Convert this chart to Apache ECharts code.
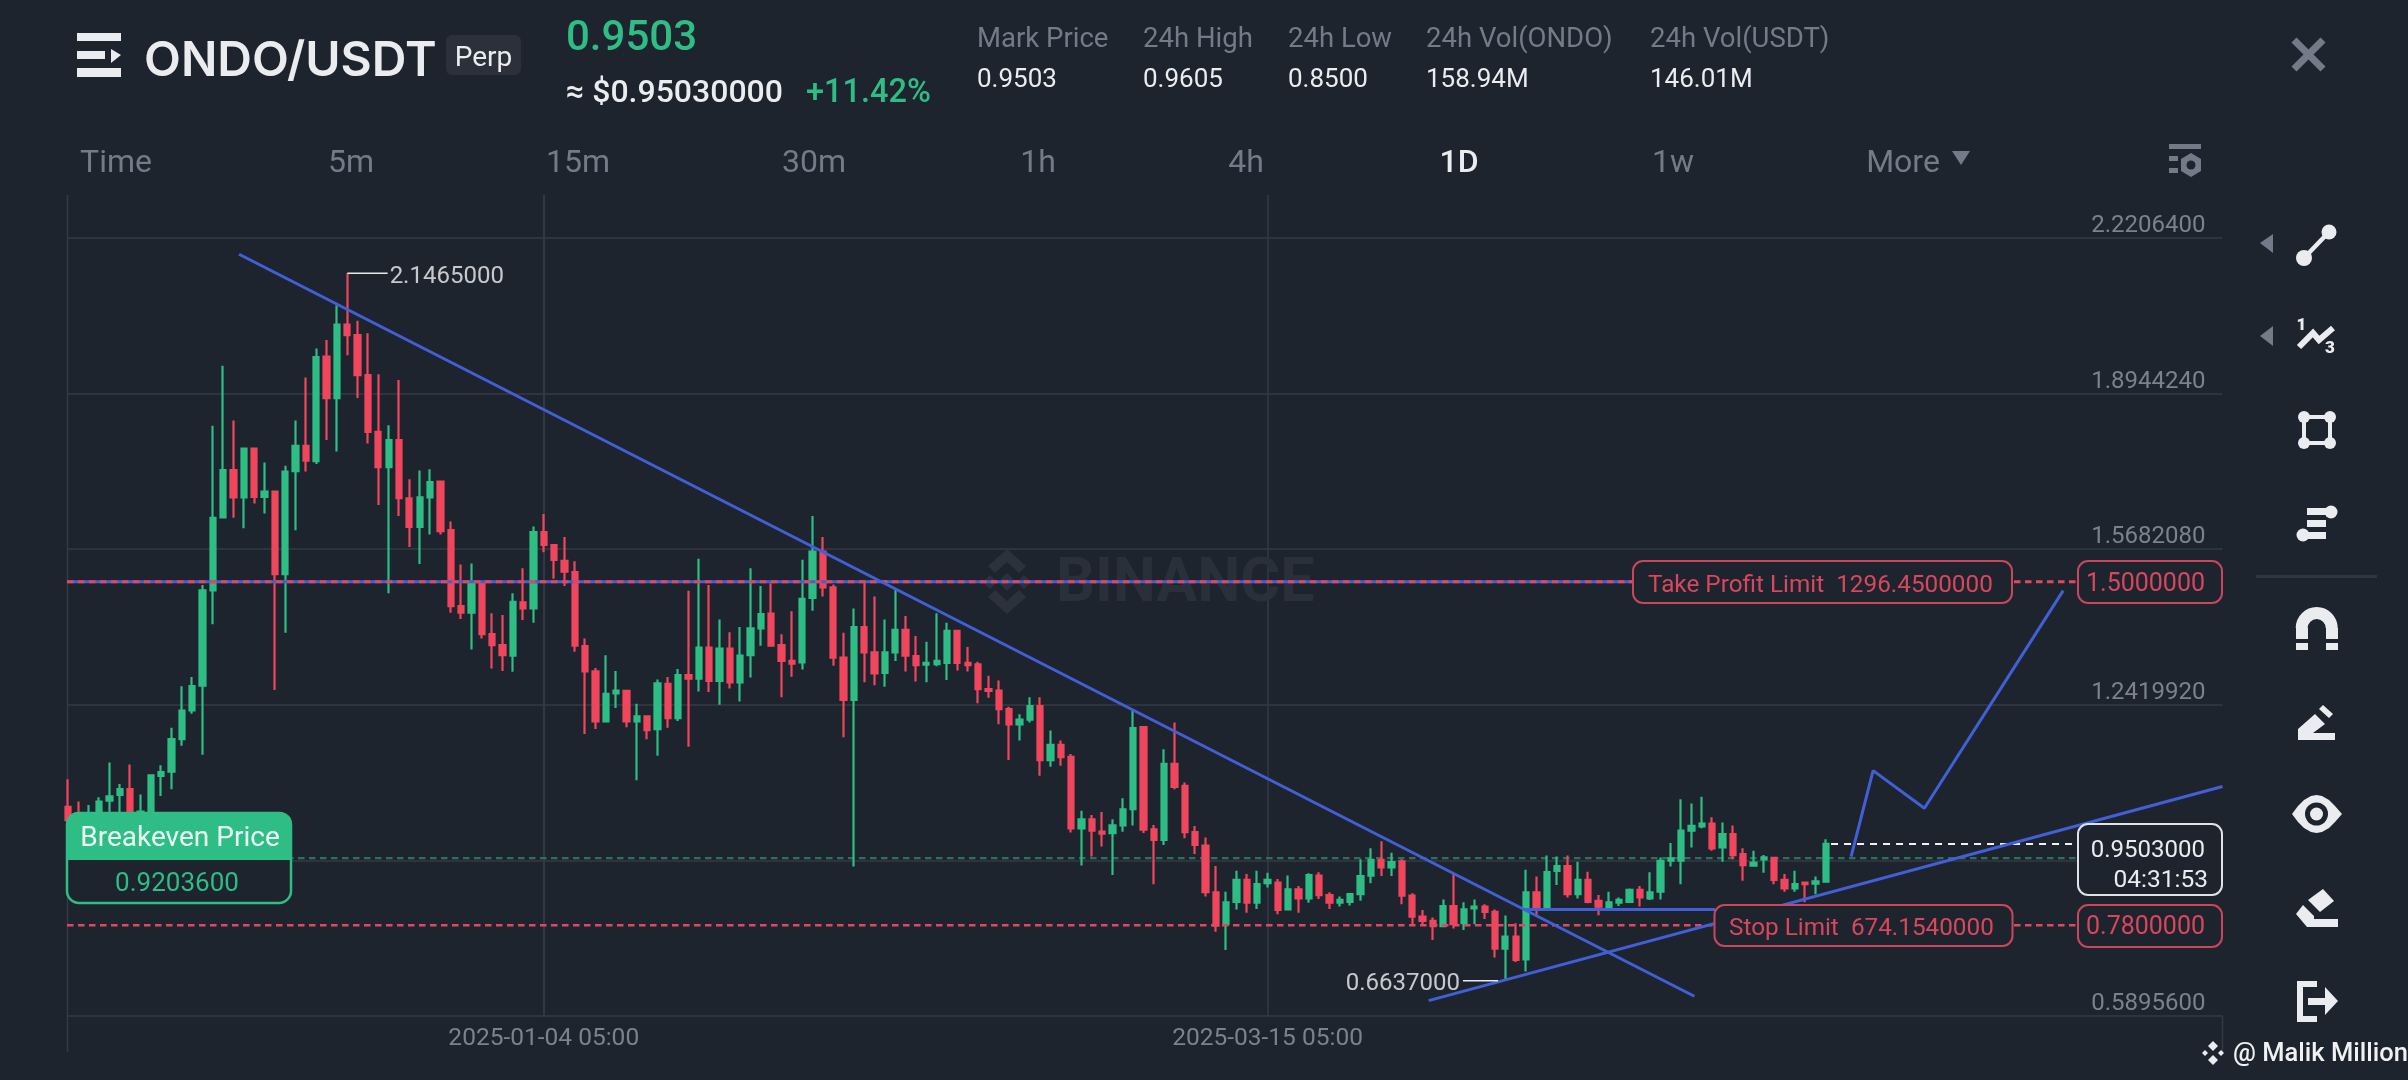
<!DOCTYPE html>
<html>
<head>
<meta charset="utf-8">
<style>html,body{margin:0;padding:0;background:#1e242e;}#c{width:2408px;height:1080px;}</style>
<script src="https://cdn.jsdelivr.net/npm/echarts@6/dist/echarts.min.js"></script>
</head>
<body>
<div id="c"></div>
<script>
// ---- data (daily candles, day 0 = 2025-01-04 05:00, first candle = day -46) ----
const opens = [
1.028,1.010,.990,1.000,1.041,1.053,1.065,1.005,1.018,1.093,
1.102,1.170,1.230,1.282,1.482,1.635,1.734,1.677,1.779,1.678,
1.689,1.516,1.732,1.785,1.753,1.972,1.885,2.039,2.017,1.933,
1.814,1.740,1.797,1.675,1.615,1.677,1.710,1.608,1.449,1.435,
1.495,1.390,1.367,1.345,1.457,1.444,1.604,1.577,1.544,1.520,
1.365,1.312,1.207,1.266,1.271,1.207,1.218,1.191,1.286,1.214,
1.304,1.297,1.362,1.292,1.360,1.289,1.346,1.402,1.433,1.367,
1.334,1.331,1.466,1.563,1.488,1.341,1.252,1.405,1.352,1.309,
1.352,1.399,1.344,1.326,1.327,1.330,1.397,1.330,1.327,1.275,
1.272,1.233,1.201,1.211,1.239,1.126,1.158,1.133,.983,1.002,
.976,.973,.989,1.023,1.195,.981,.959,1.118,1.072,.975,
.947,.849,.782,.829,.875,.827,.868,.869,.813,.855,
.836,.884,.843,.827,.829,.845,.884,.917,.901,.914,
.842,.798,.789,.778,.820,.784,.815,.819,.808,.731,
.756,.708,.849,.815,.894,.904,.845,.875,.831,.818,
.827,.829,.854,.836,.850,.915,.915,.978,.987,.993,
.943,.971,.929,.905,.918,.921,.875,.857,.869,.867,
.871];
const closes = [
1.000,.990,1.005,1.039,1.050,1.065,1.000,1.018,1.094,1.101,
1.170,1.230,1.281,1.482,1.634,1.734,1.677,1.779,1.678,1.689,
1.516,1.731,1.785,1.754,1.971,1.885,2.039,2.017,1.933,1.814,
1.740,1.797,1.675,1.615,1.677,1.709,1.606,1.449,1.435,1.495,
1.390,1.367,1.346,1.458,1.444,1.604,1.577,1.546,1.521,1.366,
1.312,1.207,1.265,1.272,1.207,1.218,1.189,1.287,1.214,1.304,
1.297,1.362,1.292,1.360,1.289,1.345,1.402,1.432,1.366,1.334,
1.328,1.464,1.563,1.488,1.341,1.252,1.405,1.352,1.308,1.352,
1.399,1.345,1.325,1.330,1.334,1.397,1.330,1.325,1.275,1.271,
1.233,1.201,1.211,1.239,1.126,1.158,1.132,.983,1.002,.978,
.972,.989,1.023,1.193,.980,.959,1.118,1.070,.975,.948,
.849,.779,.828,.875,.827,.866,.875,.812,.855,.836,
.885,.843,.827,.833,.845,.883,.917,.901,.912,.842,
.798,.789,.778,.820,.782,.813,.819,.808,.731,.756,
.707,.849,.815,.891,.904,.845,.875,.829,.819,.828,
.833,.854,.838,.849,.915,.920,.978,.988,.993,.941,
.971,.927,.906,.911,.922,.875,.857,.866,.866,.872,
.9503];
const lows = [
.980,.970,.970,.980,1.000,1.000,.985,.990,1.005,1.051,
1.065,1.156,1.223,1.137,1.411,1.635,1.634,1.612,1.664,1.643,
1.273,1.393,1.608,1.731,1.747,1.797,1.773,1.975,1.885,1.790,
1.661,1.476,1.638,1.573,1.537,1.599,1.599,1.435,1.422,1.358,
1.381,1.318,1.313,1.311,1.420,1.414,1.562,1.506,1.491,1.353,
1.181,1.191,1.207,1.235,1.195,1.084,1.170,1.135,1.194,1.208,
1.154,1.270,1.269,1.242,1.276,1.249,1.299,1.366,1.366,1.258,
1.301,1.316,1.439,1.469,1.324,1.174,.903,1.289,1.283,1.280,
1.334,1.312,1.291,1.289,1.323,1.294,1.314,1.312,1.245,1.257,
1.201,1.126,1.167,1.205,1.093,1.112,1.114,.974,.905,.924,
.945,.885,.976,.989,.973,.866,.948,1.065,.962,.929,
.840,.766,.728,.813,.806,.814,.859,.803,.812,.806,
.827,.835,.814,.819,.821,.831,.868,.883,.883,.824,
.778,.778,.749,.777,.773,.770,.782,.793,.712,.6637,
.703,.683,.798,.810,.864,.838,.836,.826,.801,.815,
.820,.827,.819,.833,.834,.903,.866,.943,.983,.936,
.913,.918,.873,.903,.890,.866,.850,.850,.828,.845,
.871];
const highs = [
1.086,1.039,1.032,1.048,1.121,1.076,1.117,1.054,1.095,1.115,
1.194,1.281,1.300,1.493,1.827,1.953,1.838,1.779,1.779,1.750,
1.689,1.743,1.838,1.928,1.989,2.007,2.079,2.1465,2.047,2.021,
1.935,1.828,1.923,1.715,1.733,1.736,1.710,1.626,1.536,1.538,
1.495,1.434,1.430,1.476,1.528,1.616,1.642,1.577,1.594,1.543,
1.381,1.319,1.346,1.313,1.271,1.244,1.218,1.295,1.300,1.317,
1.481,1.548,1.493,1.421,1.394,1.405,1.528,1.491,1.497,1.390,
1.438,1.546,1.638,1.594,1.494,1.393,1.444,1.500,1.469,1.421,
1.483,1.428,1.386,1.374,1.434,1.414,1.397,1.363,1.332,1.303,
1.293,1.238,1.222,1.258,1.258,1.188,1.167,1.139,1.020,1.011,
1.017,1.002,1.046,1.230,1.196,.990,1.149,1.205,1.079,.988,
.964,.904,.850,.894,.887,.894,.890,.877,.884,.862,
.889,.891,.849,.840,.847,.918,.941,.956,.932,.918,
.847,.812,.796,.834,.887,.828,.834,.824,.813,.800,
.784,.896,.882,.926,.924,.926,.913,.892,.843,.850,
.838,.857,.862,.891,.922,.952,1.044,1.035,1.049,1.006,
.995,.989,.941,.936,.927,.921,.887,.894,.870,.882,
.960];
const firstCandleDay = -46;
const priceTicks = [2.22064,1.894424,1.568208,1.241992,0.915776,0.58956];
const dateTickDays = [0,70];
const dateTickLabels = ['2025-01-04 05:00','2025-03-15 05:00'];
// drawn trend lines: [day, price]
const trendDown = [[-29.47,2.1865],[111.28,0.6309]];
const trendUp = [[85.58,0.6217],[162.36,1.0707]];
const support = [[94.77,0.8129],[113.3,0.8129]];
const projection = [[126.44,0.9236],[128.57,1.1039],[133.53,1.0250],[146.95,1.4814]];
// order levels: [fromDay, toDay, price]
const takeProfitBlue = [-46.11,105.4,1.5];
const takeProfitRed = [-46.11,148.4,1.5];
const stopRed = [-46.11,148.4,0.78];
const breakeven = [-46.11,148.4,0.92036];
const lastPriceLine = [124.5,148.4,0.9503];
const highNote = [[-19,2.1465],[-15.1,2.1465]];
const lowNote = [[88.9,0.6637],[92.3,0.6637]];

// ---- scale ----
const xMin = -46.11, xMax = 162.36;
const yMin = 0.58956, yMax = 2.31073;

// ---- colours ----
const BG='#1e242e', GRID='#343a45', UP='#2ebd85', DOWN='#f0465d', BLUE='#4160d8',
      TXT='#eaecef', MUTE='#747b88', AXT='#7b818d', BOXRED='#c9465c', TXTRED='#d8475e';
const FONT='Roboto';

// ---- graphic helpers ----
const g = [];
const text = (s,x,y,o={}) => g.push({type:'text',z:o.z||100,silent:true,x,y,style:{text:s,fill:o.fill||TXT,
  font:(o.weight||400)+' '+(o.size||26)+'px '+(o.family||FONT),align:o.align||'left',verticalAlign:'middle',
  textAlign:o.align||'left',textVerticalAlign:'middle'}});
const poly = (pts,fill,z=100) => g.push({type:'polygon',z,silent:true,shape:{points:pts},style:{fill}});
const lineG = (x1,y1,x2,y2,stroke,w=2,z=100) => g.push({type:'line',z,silent:true,shape:{x1,y1,x2,y2},style:{stroke,lineWidth:w}});
const pline = (pts,stroke,w,z=100) => g.push({type:'polyline',z,silent:true,shape:{points:pts},style:{stroke,lineWidth:w,fill:null,lineJoin:'miter'}});
const circ = (cx,cy,r,fill,z=100) => g.push({type:'circle',z,silent:true,shape:{cx,cy,r},style:{fill}});
const rect = (x,y,w,h,o={}) => g.push({type:'rect',z:o.z||100,silent:true,shape:{x,y,width:w,height:h,r:o.r||0},
  style:{fill:o.fill||BG,stroke:o.stroke||null,lineWidth:o.lw||2}});

// axis frame pieces
lineG(67.5,195,67.5,1052,GRID,1.5,0);
lineG(2222.5,1016,2222.5,1052,GRID,1.5,0);

// watermark
poly([[1007,549],[1026,566],[1019,573],[1007,562],[995,573],[988,566]],'#2c323c',1);
poly([[1007,614],[1026,597],[1019,590],[1007,601],[995,590],[988,597]],'#2c323c',1);
poly([[1007,573],[1016,582],[1007,591],[998,582]],'#2c323c',1);
poly([[983,582],[990,575],[997,582],[990,589]],'#2c323c',1);
poly([[1017,582],[1024,575],[1031,582],[1024,589]],'#2c323c',1);
text('BINANCE',1056,586,{size:61,weight:700,fill:'#2a303a',z:1});

// header
rect(77,33,44,8,{fill:TXT}); rect(77,51,28,8,{fill:TXT}); rect(77,68,44,9,{fill:TXT});
poly([[111,49],[121,55],[111,63]],TXT);
text('ONDO/USDT',144,62,{size:48,weight:600,family:'Inter'});
rect(446,35,75,40,{fill:'#2b303a',r:6});
text('Perp',483.5,59,{size:28,align:'center'});
text('0.9503',566,39,{size:42,weight:500,fill:UP});
text('≈ $0.95030000',566,94,{size:32,weight:500});
text('+11.42%',806,94,{size:32.5,weight:500,fill:UP});
const statLabels=['Mark Price','24h High','24h Low','24h Vol(ONDO)','24h Vol(USDT)'];
const statValues=['0.9503','0.9605','0.8500','158.94M','146.01M'];
const statX=[977,1143,1288,1426,1650];
statLabels.forEach((s,i)=>{text(s,statX[i],40,{size:27.5,fill:MUTE});text(statValues[i],statX[i],80,{size:26});});
const tabs=['Time','5m','15m','30m','1h','4h','1D','1w','More'];
const tabX=[116,351,578,814,1038,1246,1459,1673,1903];
tabs.forEach((s,i)=>text(s,tabX[i],164,{size:32,align:'center',fill:s==='1D'?TXT:MUTE,weight:s==='1D'?500:400}));
poly([[1952,151],[1970,151],[1961,165]],MUTE);
// settings icon
rect(2169,144,32,5,{fill:MUTE}); rect(2169,156,9,5,{fill:MUTE}); rect(2169,168,9,5,{fill:MUTE});
poly([[2191,153],[2201,159],[2201,171],[2191,177],[2181,171],[2181,159]],MUTE); circ(2191,165,4.5,BG,101);
// close
lineG(2294,40,2323,69,MUTE,7); lineG(2323,40,2294,69,MUTE,7);

// right toolbar
poly([[2273,234],[2273,253],[2260,243]],MUTE); poly([[2273,326],[2273,346],[2260,336]],MUTE);
lineG(2304,258,2329,232,TXT,4.5); circ(2329,232,7.5,TXT); circ(2304,258,8,TXT);
pline([[2299,347],[2313,333],[2319,340],[2333,328]],TXT,6);
text('1',2301.5,326,{size:17,weight:900,align:'center'}); text('3',2330,349,{size:17,weight:900,align:'center'});
rect(2304,417,26,26,{fill:'transparent',stroke:TXT,lw:4});
[[2304,417],[2330,417],[2304,443],[2330,443]].forEach(p=>circ(p[0],p[1],6,TXT));
rect(2307,508,23,7,{fill:TXT}); circ(2331,512,6.5,TXT); rect(2307,520,19,7,{fill:TXT});
rect(2302,532,24,7,{fill:TXT}); circ(2303,535,6.5,TXT);
lineG(2256,576.5,2377,576.5,'#2f3641',3);
// magnet
g.push({type:'arc',z:100,silent:true,shape:{cx:2316.7,cy:628,r:15,startAngle:Math.PI,endAngle:0,clockwise:true},style:{stroke:TXT,lineWidth:12,fill:null}});
rect(2296,628,12,11,{fill:TXT}); rect(2326,628,12,11,{fill:TXT}); rect(2296,643,12,7,{fill:TXT}); rect(2326,643,12,7,{fill:TXT});
// pencil
poly([[2298,740],[2298,729],[2315,714],[2325,724],[2313,733],[2335,733],[2335,740]],TXT);
poly([[2323,705],[2333,714],[2329,718],[2319,709]],TXT);
// eye
poly([[2292,814],[2298,806],[2304,800],[2311,796],[2316.5,795],[2322,796],[2329,800],[2335,806],[2342,814],[2335,822],[2329,828],[2322,832],[2316.5,833],[2311,832],[2304,828],[2298,822]],TXT);
circ(2316.5,814,11.5,BG,101); circ(2316.5,814,6.5,TXT,102);
// eraser
poly([[2323,889],[2334,901],[2320,912],[2308,900]],TXT);
poly([[2303,905],[2314,916],[2314,919],[2338,919],[2338,927],[2307,927],[2296,914]],TXT);
// exit
rect(2297,981,6,41,{fill:TXT}); rect(2297,981,20,6,{fill:TXT}); rect(2297,1016,20,6,{fill:TXT});
rect(2308,998,20,7,{fill:TXT}); poly([[2325,987],[2338,1001],[2325,1015]],TXT);

// bottom-right credit
poly([[2213,1041],[2218,1046],[2213,1051],[2208,1046]],TXT);
poly([[2213,1055],[2218,1060],[2213,1065],[2208,1060]],TXT);
poly([[2202,1053],[2205,1050],[2208,1053],[2205,1056]],TXT);
poly([[2218,1053],[2221,1050],[2224,1053],[2221,1056]],TXT);
text('@ Malik Million',2233,1055,{size:25.5,weight:500,fill:'#f0f1f3'});

// order boxes
rect(1633,561,379,42,{stroke:BOXRED,r:10});
text('Take Profit Limit  1296.4500000',1648,586,{size:24.3,fill:TXTRED});
rect(1714.5,905,298,41,{stroke:BOXRED,r:10});
text('Stop Limit  674.1540000',1729,929,{size:24.3,fill:TXTRED});
rect(2078,561,144,42,{stroke:BOXRED,r:10});
text('1.5000000',2205,585,{size:25,align:'right',fill:TXTRED});
rect(2078,905,144,42,{stroke:BOXRED,r:10});
text('0.7800000',2205,928,{size:25,align:'right',fill:TXTRED});
rect(2078,824,144,71,{stroke:'#dfe2e6',r:10});
text('0.9503000',2205,851,{size:24,align:'right'});
text('04:31:53',2208,881,{size:24.5,align:'right'});
// breakeven tag
rect(67,813,224,90,{stroke:UP,r:12,lw:2.5});
rect(66,812,226,48,{fill:UP,r:[12,12,0,0]});
text('Breakeven Price',180,839,{size:28,align:'center',fill:'#eafff7',z:101});
text('0.9203600',177,884,{size:26,align:'center',fill:UP});

// ---- series ----
const candleData = opens.map((o,i)=>[firstCandleDay+i,o,closes[i],lows[i],highs[i]]);
const lineS = (pts,color,width,z,dash) => ({type:'line',data:pts,symbol:'none',silent:true,z,clip:true,
  lineStyle:{color,width,type:dash||'solid',cap:'butt'}});
const level = (l,color,width,z,dash) => lineS([[l[0],l[2]],[l[1],l[2]]],color,width,z,dash);
const noteLabel = (d,p,s,pos,dx) => ({type:'scatter',data:[[d,p]],symbolSize:0,silent:true,z:6,
  label:{show:true,position:pos,distance:3,offset:[dx,3.5],formatter:s,color:'#f0f1f3',fontFamily:FONT,fontSize:24}});

const option = {
  backgroundColor:BG, animation:false, textStyle:{fontFamily:FONT},
  grid:{left:67,top:195,width:2155.5,bottom:64,containLabel:false},
  xAxis:{type:'value',min:xMin,max:xMax,
    axisLine:{show:false},axisTick:{show:false,customValues:dateTickDays},
    splitLine:{show:true,lineStyle:{color:GRID,width:1.5}},
    axisLabel:{customValues:dateTickDays,margin:10,color:AXT,fontSize:24.5,fontFamily:FONT,hideOverlap:false,
      formatter:v=>dateTickLabels[dateTickDays.indexOf(v)]}},
  yAxis:{type:'value',position:'right',min:yMin,max:yMax,
    axisLine:{show:true,lineStyle:{color:GRID,width:1.5}},axisTick:{show:false,customValues:priceTicks},
    splitLine:{show:true,lineStyle:{color:GRID,width:1.5}},
    axisLabel:{customValues:priceTicks,inside:true,margin:17,color:AXT,fontSize:24,fontFamily:FONT,
      verticalAlign:'bottom',padding:0,hideOverlap:false,showMinLabel:true,showMaxLabel:true,formatter:v=>v.toFixed(7)}},
  graphic:{elements:g},
  series:[
    level(breakeven,'#2f6f5c',2.2,1,[6.5,4.5]),
    {type:'candlestick',data:candleData,encode:{x:0,y:[1,2,3,4]},barWidth:5.8,clip:true,z:2,silent:true,
      itemStyle:{color:UP,color0:DOWN,borderColor:UP,borderColor0:DOWN,borderWidth:2.2}},
    level(takeProfitBlue,BLUE,3,3),
    level(takeProfitRed,'#e0485f',3,4,[6.5,4.5]),
    level(stopRed,'#e0485f',2.5,4,[6.5,4.5]),
    level(lastPriceLine,'#f0f1f3',2,3,[7,6]),
    lineS(trendDown,BLUE,3,5),
    lineS(trendUp,BLUE,3,5),
    lineS(support,BLUE,3,5),
    lineS(projection,BLUE,3,5),
    lineS(highNote,'#e8e9eb',1.5,5),
    lineS(lowNote,'#e8e9eb',1.5,5),
    noteLabel(highNote[1][0],highNote[1][1],'2.1465000','right',-1),
    noteLabel(lowNote[0][0],lowNote[0][1],'0.6637000','left',0)
  ]
};
const chart = echarts.init(document.getElementById('c'),null,{renderer:'canvas',width:2408,height:1080});
chart.setOption(option);
</script>
</body>
</html>
